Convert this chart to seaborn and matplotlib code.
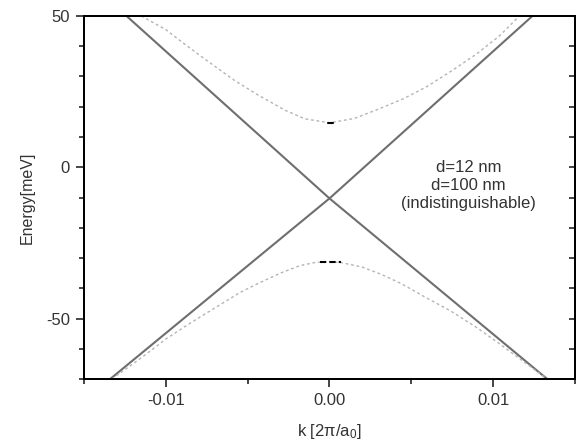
import pandas as pd
import matplotlib
matplotlib.use("Agg")
import matplotlib.pyplot as plt
from matplotlib.ticker import MultipleLocator, FormatStrFormatter
import seaborn as sns

# -----------------------------
# DATA
# -----------------------------
# solid lines (crossing cone)
cone_up_k = [-0.0134, 0.0, 0.0124]
cone_up_e = [-70.0, -10.3, 50.0]
cone_down_k = [-0.0124, 0.0, 0.0133]
cone_down_e = [50.0, -10.3, -70.0]

# dotted upper band
upper_k = [-0.0115, -0.0100, -0.0089, -0.0075, -0.0058, -0.0045, -0.0027, -0.0015,
           0.0, 0.0015, 0.0028, 0.0045, 0.0059, 0.0075, 0.0090, 0.0104, 0.0116]
upper_e = [50.0, 45.5, 40.9, 35.3, 28.7, 24.3, 18.8, 16.0,
           14.7, 16.1, 18.8, 22.6, 26.5, 32.0, 37.5, 43.5, 50.0]

# dotted lower band
lower_k = [-0.0133, -0.0115, -0.0100, -0.0085, -0.0070, -0.0055, -0.0044, -0.0030,
           -0.0018, -0.0008, 0.0, 0.0007, 0.0020, 0.0032, 0.0044, 0.0058, 0.0074,
           0.0090, 0.0104, 0.0118, 0.0133]
lower_e = [-70.0, -63.0, -56.8, -51.5, -46.5, -41.5, -38.5, -35.0,
           -32.5, -31.4, -31.3, -31.5, -33.0, -35.5, -38.5, -42.8, -47.5,
           -53.0, -58.4, -64.0, -70.0]

# small black marks near the band edges
mark_up_k = [-0.0001, 0.0002]
mark_up_e = [14.6, 14.6]
mark_low_k = [-0.0006, 0.0007]
mark_low_e = [-31.3, -31.3]

note_lines = ["d=12 nm", "d=100 nm", "(indistinguishable)"]

# -----------------------------
# PLOT
# -----------------------------
sns.set_style("ticks")
plt.rcParams["font.family"] = ["Liberation Sans", "DejaVu Sans"]
plt.rcParams["axes.unicode_minus"] = False
plt.rcParams["mathtext.fontset"] = "custom"
plt.rcParams["mathtext.rm"] = "Liberation Sans"
plt.rcParams["mathtext.it"] = "Liberation Sans"

fig = plt.figure(figsize=(5.78, 4.48), dpi=100)
ax = fig.add_axes([0.1453, 0.154, 0.8495, 0.8103])

solid_col = "#6e6e6e"
dot_col = "#b4b4b4"

sns.lineplot(x=cone_up_k, y=cone_up_e, ax=ax, color=solid_col, lw=1.5, sort=False)
sns.lineplot(x=cone_down_k, y=cone_down_e, ax=ax, color=solid_col, lw=1.5, sort=False)

upper = pd.DataFrame({"k": upper_k, "E": upper_e})
lower = pd.DataFrame({"k": lower_k, "E": lower_e})
for df in (upper, lower):
    sns.lineplot(data=df, x="k", y="E", ax=ax, color=dot_col, lw=1.0,
                 linestyle=(0, (2, 2)), sort=False)

sns.lineplot(x=mark_up_k, y=mark_up_e, ax=ax, color="black", lw=1.5, sort=False)
sns.lineplot(x=mark_low_k, y=mark_low_e, ax=ax, color="black", lw=1.5,
             linestyle=(0, (3, 1.5)), sort=False)

ax.set_xlim(-0.015, 0.015)
ax.set_ylim(-70, 50)
ax.xaxis.set_major_locator(MultipleLocator(0.01))
ax.xaxis.set_minor_locator(MultipleLocator(0.005))
ax.yaxis.set_major_locator(MultipleLocator(50))
ax.yaxis.set_minor_locator(MultipleLocator(10))
ax.xaxis.set_major_formatter(FormatStrFormatter("%.2f"))

ax.tick_params(which="major", direction="out", length=6, width=1.2,
               labelsize=12, labelcolor="#333333", pad=4)
ax.tick_params(which="minor", direction="out", length=3.5, width=1.2)
ax.tick_params(top=False, right=False, which="both")

ax2 = ax.twinx()
ax2.set_ylim(ax.get_ylim())
ax2.yaxis.set_major_locator(MultipleLocator(50))
ax2.yaxis.set_minor_locator(MultipleLocator(10))
ax2.tick_params(which="both", direction="in", length=4.5, width=1.2, labelright=False)

for a in (ax, ax2):
    for s in a.spines.values():
        s.set_linewidth(1.4)
        s.set_color("black")

ax.set_xlabel(r"k [2π/a$_0$]", fontsize=12, color="#333333", labelpad=10)
ax.set_ylabel("Energy[meV]", fontsize=11.5, color="#333333", labelpad=8)

ax.text(0.0085, -6, "\n".join(note_lines), ha="center", va="center",
        multialignment="center", fontsize=12, color="#333333", linespacing=1.25)

fig.savefig("out.png", dpi=100)
